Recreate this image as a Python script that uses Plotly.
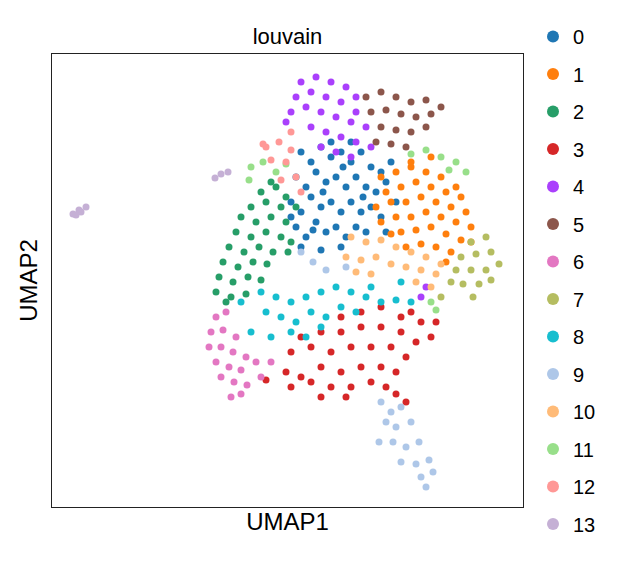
import plotly.graph_objects as go

# pixel-read positions (x, y-from-top) per louvain cluster
c0 = [(300,150),(310,160),(320,145),(330,155),(340,150),(350,160),(360,150),(370,165),(380,170),(390,160),(295,175),(305,185),(315,170),(325,180),(335,175),(345,185),(355,175),(365,185),(375,190),(385,180),(290,200),(300,210),(310,195),(320,205),(330,200),(340,210),(350,200),(360,210),(370,205),(380,215),(295,225),(305,235),(315,220),(325,230),(335,225),(345,235),(355,225),(365,230),(300,245),(320,248),(340,245),(290,215),(395,200),(385,230),(330,140),(350,140),(312,228),(362,195),(322,190),(342,165)]
c1 = [(380,175),(395,170),(410,165),(425,170),(440,175),(455,185),(385,190),(400,185),(415,180),(430,185),(445,190),(460,195),(375,205),(390,200),(405,200),(420,195),(435,200),(450,205),(465,210),(380,220),(395,215),(410,215),(425,210),(440,215),(455,220),(470,225),(400,230),(415,228),(430,225),(445,232),(460,238),(420,242),(435,245),(450,250),(410,160),(430,155),(390,232),(470,240),(445,260),(405,245)]
c2 = [(260,190),(275,185),(285,195),(250,205),(265,200),(280,205),(240,215),(255,220),(270,215),(285,220),(235,230),(250,235),(265,230),(280,235),(228,245),(243,250),(258,245),(272,250),(222,260),(237,265),(252,260),(266,262),(218,275),(232,280),(247,275),(260,278),(215,290),(230,295),(245,292),(225,300),(290,240),(295,205),(270,180),(287,250)]
c3 = [(340,315),(360,310),(380,305),(400,315),(420,320),(430,335),(300,335),(320,330),(340,330),(360,325),(380,325),(400,330),(415,340),(290,350),(310,345),(330,350),(350,345),(370,345),(390,345),(405,355),(285,370),(300,375),(320,365),(340,370),(360,365),(380,365),(395,370),(290,385),(310,380),(330,385),(350,385),(370,380),(385,385),(395,392),(405,400),(320,395),(345,395),(410,310),(435,320),(265,378)]
c4 = [(300,80),(315,75),(330,80),(345,85),(355,95),(295,95),(310,90),(325,95),(340,100),(355,110),(290,110),(305,105),(320,110),(335,115),(350,120),(365,125),(310,125),(325,130),(340,135),(355,140),(370,145),(335,150),(350,155),(320,145),(285,120),(420,295),(425,285)]
c5 = [(365,95),(380,90),(395,95),(410,100),(425,98),(440,105),(370,110),(385,108),(400,112),(415,115),(430,112),(380,125),(395,128),(410,130),(425,125),(390,142),(405,145),(375,140)]
c6 = [(215,315),(225,310),(210,330),(222,328),(235,335),(208,345),(220,345),(232,350),(245,355),(215,360),(228,365),(240,368),(255,360),(220,375),(233,380),(246,383),(260,375),(240,392),(270,360),(230,395)]
c7 = [(470,240),(485,235),(460,255),(475,252),(490,250),(498,262),(455,268),(470,268),(485,268),(462,282),(478,282),(490,278),(450,280),(472,295),(440,295)]
c8 = [(260,290),(275,295),(290,300),(305,295),(320,290),(335,285),(350,290),(365,295),(380,300),(395,298),(265,310),(280,315),(295,320),(310,310),(325,315),(340,305),(355,310),(370,285),(250,330),(270,335),(290,330),(305,335),(320,325),(240,300),(400,280),(410,300)]
c9 = [(380,400),(390,410),(400,405),(385,420),(395,425),(410,420),(378,440),(392,440),(405,445),(418,440),(400,460),(415,462),(428,458),(420,475),(432,470),(425,485),(312,260),(325,268),(345,265),(300,250)]
c10 = [(350,235),(365,240),(380,238),(395,245),(410,250),(425,255),(345,255),(360,258),(375,255),(390,262),(405,265),(420,268),(435,272),(355,270),(370,272),(415,280),(430,285),(440,262)]
c11 = [(250,165),(262,160),(275,170),(248,178),(285,162),(410,152),(425,148),(440,155),(455,160),(465,170),(448,168),(430,300),(435,308)]
c12 = [(265,145),(278,140),(290,148),(270,158),(285,160),(295,175),(280,178),(300,190),(290,130),(262,142)]
c13 = [(72,212),(78,208),(85,205),(80,210),(75,213),(214,176),(220,172),(227,170)]

clusters = [c0,c1,c2,c3,c4,c5,c6,c7,c8,c9,c10,c11,c12,c13]
labels = [str(i) for i in range(14)]
colors = ["#1f77b4","#ff7f0e","#279e68","#d62728","#aa40fc","#8c564b","#e377c2",
          "#b5bd61","#17becf","#aec7e8","#ffbb78","#98df8a","#ff9896","#c5b0d5"]

W, H = 623, 561
L, R, T, B = 51, 522, 52, 505
DX, DY = 7, 6  # page offset compensation
fig = go.Figure()
for lab, pts, col in zip(labels, clusters, colors):
    fig.add_trace(go.Scatter(
        x=[p[0] for p in pts], y=[H - p[1] for p in pts], mode="markers",
        name=lab, legendgroup=lab,
        marker=dict(color=col, size=7, line=dict(width=0)),
    ))

fig.update_layout(
    width=W, height=H, plot_bgcolor="white", paper_bgcolor="white",
    margin=dict(l=L-DX, r=W-R+DX, t=T-DY, b=H-B+DY, autoexpand=False),
    font=dict(family="Liberation Sans, Arial", size=20, color="black"),
    title=dict(text="louvain", x=((L+R)/2-DX)/W, xanchor="center", y=1-(34-DY)/H, yanchor="middle",
               font=dict(size=22)),
    xaxis=dict(range=[L, R], showticklabels=False, ticks="", showgrid=False, zeroline=False,
               showline=True, mirror=True, linecolor="#222", linewidth=1,
               title=dict(text="UMAP1", standoff=6)),
    yaxis=dict(range=[H-B, H-T], showticklabels=False, ticks="", showgrid=False, zeroline=False,
               showline=True, mirror=True, linecolor="#222", linewidth=1,
               title=dict(text="UMAP2", standoff=6)),
    legend=dict(x=(532-DX)/W, xanchor="left", xref="container",
                y=1-(15-DY)/H, yanchor="top", yref="container",
                tracegroupgap=8.5, maxheight=545,
                font=dict(size=20), itemsizing="constant", itemwidth=30,
                bgcolor="rgba(0,0,0,0)"),
)
fig.write_html("out.html")
